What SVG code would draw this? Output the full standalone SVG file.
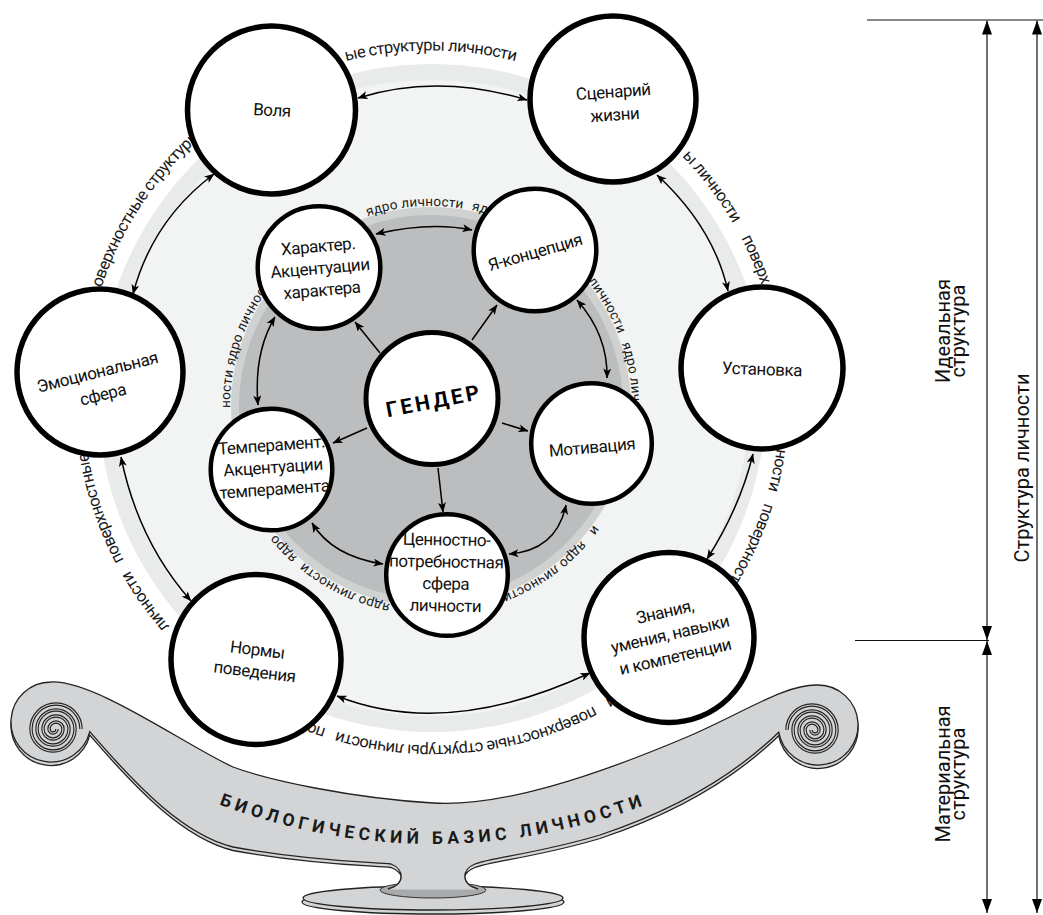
<svg xmlns="http://www.w3.org/2000/svg" width="1043" height="915" viewBox="0 0 1043 915">
<defs>
<style>
.node{fill:#fff;stroke:#000}
.outer{stroke-width:5.5}
.inner{stroke-width:4.5}
.lbl{font-family:Roboto,"Noto Sans",sans-serif;font-size:17px;letter-spacing:-0.45px;fill:#111;text-anchor:middle}
.ring{font-family:Roboto,"Noto Sans",sans-serif;font-size:16.5px;letter-spacing:-0.6px;fill:#1a1a1a}
.ring2{font-family:Roboto,"Noto Sans",sans-serif;font-size:13.5px;letter-spacing:0.2px;fill:#1a1a1a}
.conn{fill:none;stroke:#000;stroke-width:1.5}
.rule{stroke:#111;stroke-width:1.2;fill:none}
.side{font-family:Roboto,"Noto Sans",sans-serif;font-size:20px;fill:#111;text-anchor:middle}
.ban{fill:#d3d4d5;stroke:none}
.banl{fill:none;stroke:#222;stroke-width:1.3}
</style>
<marker id="ah" viewBox="0 0 10 8" refX="9.5" refY="4" markerWidth="10" markerHeight="8" markerUnits="userSpaceOnUse" orient="auto-start-reverse"><path d="M0,0 L10,4 L0,8 L2.5,4 z" fill="#000"/></marker>
<marker id="ah2" viewBox="0 0 14 10" refX="14" refY="5" markerWidth="14" markerHeight="10" markerUnits="userSpaceOnUse" orient="auto-start-reverse"><path d="M0,0 L14,5 L0,10 z" fill="#000"/></marker>
<path id="outerRing" d="M 537.5 67.43 A 347 347 0 1 1 326.5 728.57 A 347 347 0 1 1 537.5 67.43"/>
<path id="innerRing" d="M 280.69 273.55 A 201 201 0 1 1 581.31 540.45 A 201 201 0 1 1 280.69 273.55"/>
<path id="bioPath" d="M 190 793 Q 433 895 676 793"/>
</defs>

<g id="background">
<circle cx="432" cy="398" r="334" fill="#e9ebea"/>
<circle cx="432" cy="398" r="318" fill="#f2f3f3"/>
<circle cx="431" cy="407" r="200" fill="#d0d1d1"/>
<circle cx="431" cy="407" r="192" fill="#bcbdbe"/>
</g>

<g id="ring-texts">
<text class="ring"><textPath href="#outerRing" startOffset="171.4">ы личности</textPath></text>
<text class="ring"><textPath href="#outerRing" startOffset="272.5">поверх</textPath></text>
<text class="ring"><textPath href="#outerRing" startOffset="489.4">ности</textPath></text>
<text class="ring"><textPath href="#outerRing" startOffset="545.1">поверхност</textPath></text>
<text class="ring"><textPath href="#outerRing" startOffset="795.2">и</textPath></text>
<text class="ring"><textPath href="#outerRing" startOffset="817.6">поверхностные структуры личности</textPath></text>
<text class="ring"><textPath href="#outerRing" startOffset="1093">пов</textPath></text>
<text class="ring"><textPath href="#outerRing" startOffset="1282.1">личности</textPath></text>
<text class="ring"><textPath href="#outerRing" startOffset="1362.7">поверхностные</textPath></text>
<text class="ring"><textPath href="#outerRing" startOffset="1643.7">оверхностные структуры</textPath></text>
<text class="ring"><textPath href="#outerRing" startOffset="1991.3">ые структуры личности</textPath></text>
<text class="ring2"><textPath href="#innerRing" startOffset="105.2">ядро личности</textPath></text>
<text class="ring2"><textPath href="#innerRing" startOffset="210.5">ядр</textPath></text>
<text class="ring2"><textPath href="#innerRing" startOffset="349.4">личности</textPath></text>
<text class="ring2"><textPath href="#innerRing" startOffset="421.0">ядро личн</textPath></text>
<text class="ring2"><textPath href="#innerRing" startOffset="611.4">и</textPath></text>
<text class="ring2"><textPath href="#innerRing" startOffset="631.5">ядро личности</textPath></text>
<text class="ring2"><textPath href="#innerRing" startOffset="841.9">ядро личности</textPath></text>
<text class="ring2"><textPath href="#innerRing" startOffset="947.2">ядро</textPath></text>
<text class="ring2"><textPath href="#innerRing" startOffset="1115.5">ности</textPath></text>
<text class="ring2"><textPath href="#innerRing" startOffset="1157.7">ядро личнос</textPath></text>
</g>

<g id="pedestal">
<ellipse cx="433" cy="902" rx="131" ry="12" fill="#d3d4d5" stroke="#222" stroke-width="1.3"/>
<ellipse cx="433" cy="898" rx="130" ry="12" fill="#d3d4d5" stroke="#222" stroke-width="1.3"/>
<ellipse cx="433" cy="890" rx="53" ry="8" fill="#a9aaab" stroke="#333" stroke-width="1"/>
<g transform="translate(0,3.5)">
<path class="ban" d="M 51 682 C 95 680 185 745 233 767 C 268 780 350 798 433 803 C 500 807 590 778 687 737 C 745 712 785 684 818 685 A 40 40 0 1 1 778.7 732.2 C 745 765 690 805 600 835 C 540 853 490 858 475 864 C 462 869 460 884 478 886 L 388 886 C 406 884 404 869 391 864 C 370 862 310 861 233 847 C 185 835 140 790 89.8 731.7 A 40 40 0 1 1 51 682 Z" fill="#c4c5c6"/>
<path class="banl" d="M 818 685 A 40 40 0 1 1 778.7 732.2 C 745 765 690 805 600 835 C 540 853 490 858 475 864 C 462 869 460 881 470 885 M 396 885 C 406 881 404 869 391 864 C 370 862 310 861 233 847 C 185 835 140 790 89.8 731.7 A 40 40 0 1 1 51 682"/>
</g>
<path class="ban" d="M 51 682 C 95 680 185 745 233 767 C 268 780 350 798 433 803 C 500 807 590 778 687 737 C 745 712 785 684 818 685 A 40 40 0 1 1 778.7 732.2 C 745 765 690 805 600 835 C 540 853 490 858 475 864 C 462 869 460 884 478 889 L 388 889 C 406 884 404 869 391 864 C 370 862 310 861 233 847 C 185 835 140 790 89.8 731.7 A 40 40 0 1 1 51 682 Z"/>
<path class="banl" d="M 51 682 C 95 680 185 745 233 767 C 268 780 350 798 433 803 C 500 807 590 778 687 737 C 745 712 785 684 818 685 A 40 40 0 1 1 778.7 732.2 C 745 765 690 805 600 835 C 540 853 490 858 475 864 C 462 869 460 884 478 889 M 388 889 C 406 884 404 869 391 864 C 370 862 310 861 233 847 C 185 835 140 790 89.8 731.7 A 40 40 0 1 1 51 682"/>
<path d="M 81 729 A 25 25 0 0 0 31 729 A 22 22 0 0 0 75 729 A 19 19 0 0 0 37 729 A 16 16 0 0 0 69 729 A 13 13 0 0 0 43 729 A 10 10 0 0 0 63 729 A 7 7 0 0 0 49 729 A 4 4 0 0 0 57 729" fill="none" stroke="#222" stroke-width="3.4"/>
<path d="M 81 729 A 25 25 0 0 0 31 729 A 22 22 0 0 0 75 729 A 19 19 0 0 0 37 729 A 16 16 0 0 0 69 729 A 13 13 0 0 0 43 729 A 10 10 0 0 0 63 729 A 7 7 0 0 0 49 729 A 4 4 0 0 0 57 729" fill="none" stroke="#d3d4d5" stroke-width="1.2"/>
<path d="M 787 730 A 25 25 0 0 1 837 730 A 22 22 0 0 1 793 730 A 19 19 0 0 1 831 730 A 16 16 0 0 1 799 730 A 13 13 0 0 1 825 730 A 10 10 0 0 1 805 730 A 7 7 0 0 1 819 730 A 4 4 0 0 1 811 730" fill="none" stroke="#222" stroke-width="3.4"/>
<path d="M 787 730 A 25 25 0 0 1 837 730 A 22 22 0 0 1 793 730 A 19 19 0 0 1 831 730 A 16 16 0 0 1 799 730 A 13 13 0 0 1 825 730 A 10 10 0 0 1 805 730 A 7 7 0 0 1 819 730 A 4 4 0 0 1 811 730" fill="none" stroke="#d3d4d5" stroke-width="1.2"/>
<text font-family="Roboto,'Noto Sans',sans-serif" font-weight="bold" font-size="17.5" letter-spacing="4.5" fill="#1a1a1a"><textPath href="#bioPath" startOffset="50%" text-anchor="middle">БИОЛОГИЧЕСКИЙ БАЗИС ЛИЧНОСТИ</textPath></text>
</g>

<g id="nodes">
<g id="node-volya"><circle class="node outer" cx="271.5" cy="110" r="84"/><text class="lbl" x="272" y="116" transform="rotate(3 272 110)">Воля</text></g>
<g id="node-scenariy"><circle class="node outer" cx="613" cy="99" r="83"/><text class="lbl" transform="rotate(-4 614 103)"><tspan x="614" y="97.5">Сценарий</tspan><tspan x="614" dy="23">жизни</tspan></text></g>
<g id="node-ustanovka"><circle class="node outer" cx="762" cy="368" r="81"/><text class="lbl" x="762" y="375" transform="rotate(2 762 369)">Установка</text></g>
<g id="node-znaniya"><circle class="node outer" cx="669" cy="637.5" r="85"/><text class="lbl" transform="rotate(-13 670 634)"><tspan x="670" y="617">Знания,</tspan><tspan x="670" dy="23">умения, навыки</tspan><tspan x="670" dy="23">и компетенции</tspan></text></g>
<g id="node-normy"><circle class="node outer" cx="256" cy="659.5" r="85"/><text class="lbl" transform="rotate(7 256 661)"><tspan x="256" y="655.5">Нормы</tspan><tspan x="256" dy="22">поведения</tspan></text></g>
<g id="node-emoc"><circle class="node outer" cx="100" cy="372" r="83"/><text class="lbl" transform="rotate(-14 100 383)"><tspan x="100" y="377.5">Эмоциональная</tspan><tspan x="100" dy="23">сфера</tspan></text></g>
<g id="node-harakter"><circle class="node inner" cx="319" cy="267.5" r="61.3"/><text class="lbl" transform="rotate(-5 320 268)"><tspan x="320" y="252">Характер.</tspan><tspan x="320" dy="22">Акцентуации</tspan><tspan x="320" dy="22">характера</tspan></text></g>
<g id="node-ya"><circle class="node inner" cx="535" cy="250" r="61.3"/><text class="lbl" x="535" y="258" transform="rotate(-16 535 252)">Я-концепция</text></g>
<g id="node-gender"><circle class="node" stroke-width="5" cx="432" cy="398.5" r="66"/><text font-family="Roboto,'Noto Sans',sans-serif" font-weight="bold" font-size="21" letter-spacing="3" text-anchor="middle" fill="#000" x="434" y="408.5" transform="rotate(-11 432 401)">ГЕНДЕР</text></g>
<g id="node-motivaciya"><circle class="node inner" cx="591.5" cy="443.5" r="60.3"/><text class="lbl" x="592" y="453" transform="rotate(-5 592 447)">Мотивация</text></g>
<g id="node-cennostno"><circle class="node inner" cx="447" cy="575" r="60.8"/><text class="lbl" transform="rotate(1 446 573)"><tspan x="446" y="545.5">Ценностно-</tspan><tspan x="446" dy="22">потребностная</tspan><tspan x="446" dy="22">сфера</tspan><tspan x="446" dy="22">личности</tspan></text></g>
<g id="node-temperament"><circle class="node inner" cx="271.5" cy="469.5" r="60.8"/><text class="lbl" transform="rotate(-4 273 467)"><tspan x="273" y="451">Темперамент.</tspan><tspan x="273" dy="22">Акцентуации</tspan><tspan x="273" dy="22">темперамента</tspan></text></g>
</g>

<g id="connectors">
<path class="conn" marker-start="url(#ah)" marker-end="url(#ah)" d="M 358 98 Q 437.5 73 527 100"/>
<path class="conn" marker-start="url(#ah)" marker-end="url(#ah)" d="M 657 175 Q 713.5 227 728 291"/>
<path class="conn" marker-start="url(#ah)" marker-end="url(#ah)" d="M 753 454 Q 740 507.5 707 559"/>
<path class="conn" marker-start="url(#ah)" marker-end="url(#ah)" d="M 337 696 Q 446.5 739.5 590 673"/>
<path class="conn" marker-start="url(#ah)" marker-end="url(#ah)" d="M 191 601 Q 138 541 121 457"/>
<path class="conn" marker-start="url(#ah)" marker-end="url(#ah)" d="M 133 294 Q 152.5 220 214 174"/>
<path class="conn" marker-start="url(#ah)" marker-end="url(#ah)" d="M 376 234 Q 430 221.4 472 230"/>
<path class="conn" marker-start="url(#ah)" marker-end="url(#ah)" d="M 577 300 Q 608 335 607 378"/>
<path class="conn" marker-start="url(#ah)" marker-end="url(#ah)" d="M 566 505 Q 556.5 550.5 509 554"/>
<path class="conn" marker-start="url(#ah)" marker-end="url(#ah)" d="M 383 564 Q 332.5 556.5 312 523"/>
<path class="conn" marker-start="url(#ah)" marker-end="url(#ah)" d="M 258 405 Q 253.5 353 275 317"/>
<path class="conn" marker-end="url(#ah)" d="M 380 353 L 355 322"/>
<path class="conn" marker-end="url(#ah)" d="M 472 340 L 497 305"/>
<path class="conn" marker-end="url(#ah)" d="M 502 423 L 528 431"/>
<path class="conn" marker-end="url(#ah)" d="M 438 468 L 443 512"/>
<path class="conn" marker-end="url(#ah)" d="M 367 428 L 333 443"/>
</g>

<g id="scale">
<line class="rule" x1="867" y1="20" x2="1043" y2="20"/>
<line class="rule" x1="855" y1="640.5" x2="989" y2="640.5"/>
<line class="rule" x1="987" y1="20.5" x2="987" y2="640" marker-start="url(#ah2)" marker-end="url(#ah2)"/>
<line class="rule" x1="987" y1="641" x2="987" y2="913" marker-start="url(#ah2)" marker-end="url(#ah2)"/>
<line class="rule" x1="1037" y1="20.5" x2="1037" y2="913" marker-start="url(#ah2)" marker-end="url(#ah2)"/>
<text class="side" transform="translate(950 331) rotate(-90)"><tspan x="0" y="0">Идеальная</tspan><tspan x="0" y="15">структура</tspan></text>
<text class="side" transform="translate(1029 468) rotate(-90)" x="0" y="0">Структура личности</text>
<text class="side" transform="translate(950 774) rotate(-90)"><tspan x="0" y="0">Материальная</tspan><tspan x="0" y="15">структура</tspan></text>
</g>
</svg>
